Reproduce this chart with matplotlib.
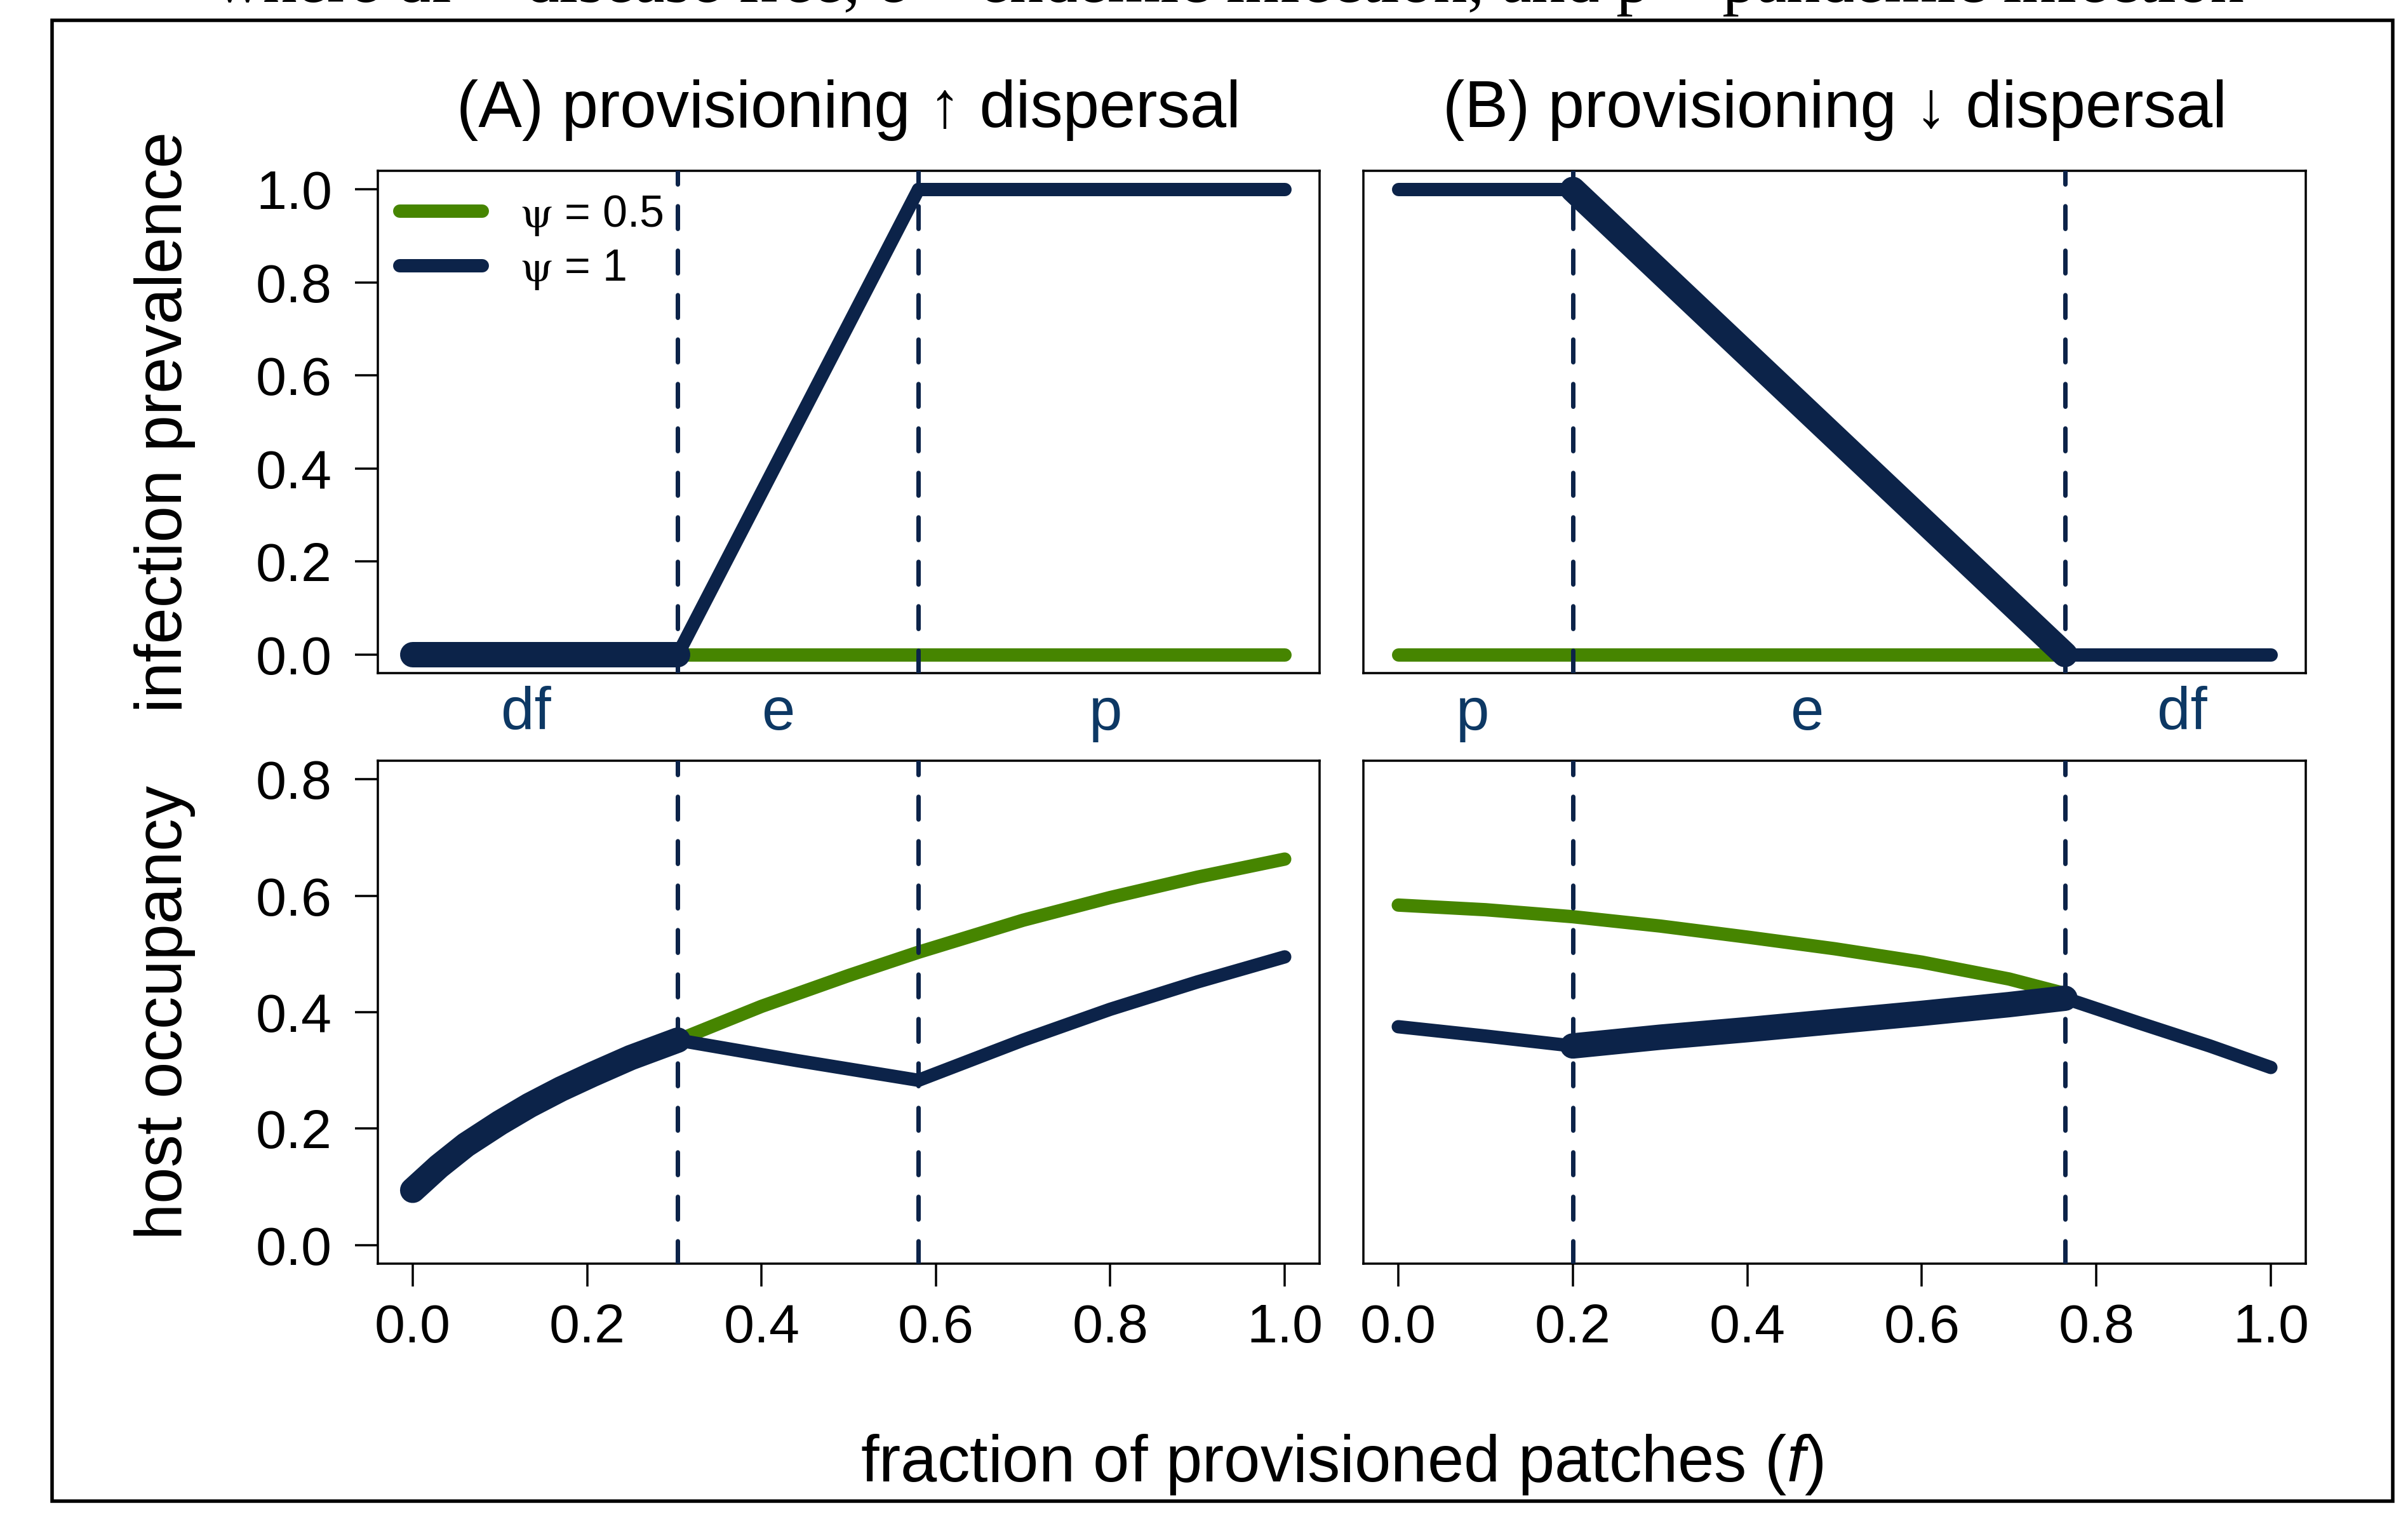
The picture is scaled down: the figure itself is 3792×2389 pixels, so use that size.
import matplotlib
matplotlib.use("Agg")
import matplotlib.pyplot as plt
from matplotlib.lines import Line2D
from matplotlib.patches import Rectangle
from matplotlib.ticker import FormatStrFormatter

# ---- values ----
thresh_a = [0.304, 0.58]
thresh_b = [0.2, 0.764]

# (A) infection prevalence
prev_a_df_f = [0.0, 0.304]
prev_a_df = [0.0, 0.0]
prev_a_e_f = [0.304, 0.58]
prev_a_e = [0.0, 1.0]
prev_a_p_f = [0.58, 1.0]
prev_a_p = [1.0, 1.0]
prev_a_half_f = [0.304, 1.0]
prev_a_half = [0.0, 0.0]

# (A) host occupancy
occ_a_df_f = [0.0, 0.03, 0.061, 0.1, 0.134, 0.17, 0.206, 0.25, 0.304]
occ_a_df = [0.094, 0.135, 0.172, 0.21, 0.24, 0.268, 0.293, 0.322, 0.352]
occ_a_e_f = [0.304, 0.37, 0.44, 0.51, 0.58]
occ_a_e = [0.352, 0.335, 0.317, 0.30, 0.283]
occ_a_p_f = [0.58, 0.7, 0.8, 0.9, 1.0]
occ_a_p = [0.283, 0.352, 0.405, 0.452, 0.495]
occ_a_half_f = [0.304, 0.4, 0.5, 0.58, 0.7, 0.8, 0.9, 1.0]
occ_a_half = [0.352, 0.41, 0.463, 0.503, 0.558, 0.597, 0.632, 0.663]

# (B) infection prevalence
prev_b_p_f = [0.0, 0.2]
prev_b_p = [1.0, 1.0]
prev_b_e_f = [0.2, 0.764]
prev_b_e = [1.0, 0.0]
prev_b_df_f = [0.764, 1.0]
prev_b_df = [0.0, 0.0]
prev_b_half_f = [0.0, 0.764]
prev_b_half = [0.0, 0.0]

# (B) host occupancy
occ_b_p_f = [0.0, 0.1, 0.2]
occ_b_p = [0.375, 0.359, 0.342]
occ_b_e_f = [0.2, 0.3, 0.4, 0.5, 0.6, 0.7, 0.764]
occ_b_e = [0.342, 0.357, 0.370, 0.384, 0.398, 0.413, 0.424]
occ_b_df_f = [0.764, 0.85, 0.93, 1.0]
occ_b_df = [0.424, 0.381, 0.342, 0.305]
occ_b_half_f = [0.0, 0.1, 0.2, 0.3, 0.4, 0.5, 0.6, 0.7, 0.764]
occ_b_half = [0.584, 0.576, 0.564, 0.548, 0.529, 0.509, 0.486, 0.457, 0.432]

labels_a = ["df", "e", "p"]
labels_a_x = [0.13, 0.42, 0.795]
labels_b = ["p", "e", "df"]
labels_b_x = [0.085, 0.469, 0.898]

legend_labels = [r"$\mathrm{\psi}$ = 0.5", r"$\mathrm{\psi}$ = 1"]
caption = "where df = disease free, e = endemic infection, and p = pandemic infection"

# ---- style ----
W, H, DPI = 3792, 2389, 300
NAVY = "#0c2349"
GREEN = "#468500"
LABEL_BLUE = "#0d3864"


def pt(px):
    return px * 72.0 / DPI


LW = pt(21)
LW_THICK = pt(40)

plt.rcParams["font.family"] = ["Liberation Sans", "DejaVu Sans"]
plt.rcParams["mathtext.fontset"] = "custom"
plt.rcParams["mathtext.rm"] = "Liberation Sans"
plt.rcParams["mathtext.it"] = "Liberation Sans:italic"

fig = plt.figure(figsize=(W / DPI, H / DPI), dpi=DPI)


def px_axes(x0, y0, x1, y1):
    return fig.add_axes([x0 / W, 1 - y1 / H, (x1 - x0) / W, (y1 - y0) / H])


def seg(ax, x, y, color, lw, z):
    ax.plot(x, y, color=color, lw=lw, solid_capstyle="round",
            solid_joinstyle="round", zorder=z)


def style(ax, ylim, yticks, show_y, show_x):
    ax.set_xlim(-0.04, 1.04)
    ax.set_ylim(*ylim)
    for s in ax.spines.values():
        s.set_linewidth(pt(3.5))
    ax.tick_params(direction="out", length=pt(36), width=pt(3.5),
                   labelsize=20.7, colors="black")
    ax.tick_params(axis="y", pad=pt(36))
    ax.tick_params(axis="x", pad=pt(26))
    if show_y:
        ax.set_yticks(yticks)
        ax.yaxis.set_major_formatter(FormatStrFormatter("%.1f"))
    else:
        ax.set_yticks([])
    if show_x:
        ax.set_xticks([0.0, 0.2, 0.4, 0.6, 0.8, 1.0])
        ax.xaxis.set_major_formatter(FormatStrFormatter("%.1f"))
    else:
        ax.set_xticks([])


def vlines(ax, xs):
    for x in xs:
        ax.axvline(x, color=NAVY, lw=pt(7), ls=(0, (5.1, 4.9)),
                   dash_capstyle="round", zorder=3)


ax_tl = px_axes(595, 269, 2078, 1060)
ax_tr = px_axes(2147, 269, 3631, 1060)
ax_bl = px_axes(595, 1198, 2078, 1990)
ax_br = px_axes(2147, 1198, 3631, 1990)

prev_ylim = (-0.04, 1.04)
occ_ylim = (-0.032, 0.832)
style(ax_tl, prev_ylim, [0, 0.2, 0.4, 0.6, 0.8, 1.0], True, False)
style(ax_tr, prev_ylim, [], False, False)
style(ax_bl, occ_ylim, [0, 0.2, 0.4, 0.6, 0.8], True, True)
style(ax_br, occ_ylim, [], False, True)

# panel A
seg(ax_tl, prev_a_half_f, prev_a_half, GREEN, LW, 2)
seg(ax_tl, prev_a_df_f, prev_a_df, NAVY, LW_THICK, 4)
seg(ax_tl, prev_a_e_f, prev_a_e, NAVY, LW, 4)
seg(ax_tl, prev_a_p_f, prev_a_p, NAVY, LW, 4)
vlines(ax_tl, thresh_a)

seg(ax_bl, occ_a_half_f, occ_a_half, GREEN, LW, 2)
seg(ax_bl, occ_a_df_f, occ_a_df, NAVY, LW_THICK, 4)
seg(ax_bl, occ_a_e_f, occ_a_e, NAVY, LW, 4)
seg(ax_bl, occ_a_p_f, occ_a_p, NAVY, LW, 4)
vlines(ax_bl, thresh_a)

# panel B
seg(ax_tr, prev_b_half_f, prev_b_half, GREEN, LW, 2)
seg(ax_tr, prev_b_p_f, prev_b_p, NAVY, LW, 4)
seg(ax_tr, prev_b_e_f, prev_b_e, NAVY, LW_THICK, 4)
seg(ax_tr, prev_b_df_f, prev_b_df, NAVY, LW, 4)
vlines(ax_tr, thresh_b)

seg(ax_br, occ_b_half_f, occ_b_half, GREEN, LW, 2)
seg(ax_br, occ_b_p_f, occ_b_p, NAVY, LW, 4)
seg(ax_br, occ_b_e_f, occ_b_e, NAVY, LW_THICK, 4)
seg(ax_br, occ_b_df_f, occ_b_df, NAVY, LW, 4)
vlines(ax_br, thresh_b)

# regime labels under the top panels
for ax, labs, xs in [(ax_tl, labels_a, labels_a_x), (ax_tr, labels_b, labels_b_x)]:
    for lab, x in zip(labs, xs):
        ax.text(x, -0.161, lab, color=LABEL_BLUE, fontsize=22.6,
                ha="center", va="baseline", clip_on=False)

# panel titles
ax_tl.text(0.5, 1.087, "(A) provisioning \u2191 dispersal", transform=ax_tl.transAxes,
           ha="center", va="baseline", fontsize=24.7)
ax_tr.text(0.5, 1.087, "(B) provisioning \u2193 dispersal", transform=ax_tr.transAxes,
           ha="center", va="baseline", fontsize=24.7)

# legend
handles = [Line2D([], [], color=GREEN, lw=LW, solid_capstyle="round"),
           Line2D([], [], color=NAVY, lw=LW, solid_capstyle="round")]
leg = ax_tl.legend(handles, legend_labels, loc="center left",
                   bbox_to_anchor=((629 - 595) / 1483, 1 - (382 - 269) / 791),
                   frameon=False, fontsize=16.8, borderpad=0, borderaxespad=0,
                   handlelength=1.86, handletextpad=0.87, labelspacing=0.25)
for t in leg.get_texts():
    t.set_math_fontfamily("stix")

# axis titles
fig.text(260 / W, 1 - 664 / H, "infection prevalence", rotation=90,
         ha="center", va="center", fontsize=24.7)
fig.text(260 / W, 1 - 1594 / H, "host occupancy", rotation=90,
         ha="center", va="center", fontsize=24.7)
fig.text(2113 / W, 1 - 2333 / H, r"fraction of provisioned patches ($\mathit{f}$)",
         ha="center", va="baseline", fontsize=24.7)

# outer frame
fig.patches.append(Rectangle((82 / W, 1 - 2364 / H), (3768 - 82) / W, (2364 - 32) / H,
                             transform=fig.transFigure, fill=False,
                             lw=pt(5.5), edgecolor="black"))

# caption line cut off at the top edge
cap = fig.text(1935 / W, 1 - 3 / H, caption, ha="center", va="baseline",
               family="Liberation Serif", fontsize=22)
renderer = fig.canvas.get_renderer()
w = cap.get_window_extent(renderer).width
cap.set_fontsize(22 * 3192 / w)

fig.savefig("out.png", dpi=DPI)
